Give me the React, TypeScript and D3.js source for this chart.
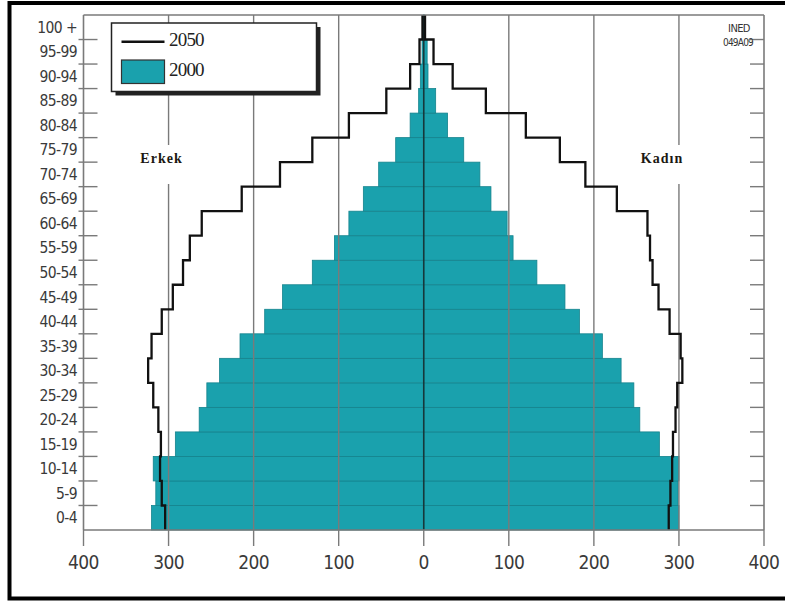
import React from "react";
import * as d3 from "d3";

// Age groups, bottom to top
const ageGroups = ["0-4","5-9","10-14","15-19","20-24","25-29","30-34","35-39","40-44","45-49","50-54","55-59","60-64","65-69","70-74","75-79","80-84","85-89","90-94","95-99","100 +"];
// 2000 (bars), thousands
const male2000 = [320,315,318,292,264,255,240,216,187,166,131,105,88,71,53,33,16,6,4,2,0.5];
const female2000 = [300,299,300,277,254,247,232,210,183,166,133,105,98,79,66,47,28,14,5,4,1];
// 2050 (step line)
const male2050 = [304,308,310,309,312,318,324,320,308,295,283,275,261,214,169,131,88,44,16,5,1.5];
const female2050 = [288,290,292,293,296,298,304,302,289,276,269,266,263,227,190,160,120,73,34,11.5,1.5];
const xTicks = [-400,-300,-200,-100,0,100,200,300,400];
const gridValues = [-300,-200,-100,100,200,300];
const legendItems = ["2050","2000"];
const sexLabels = ["Erkek","Kadın"];
const credit = ["INED","049A09"];

const W = 785, H = 604;
const L = 83.5, R = 764, T = 15, B = 530;
const TEAL = "#1aa1ad";
const GRID = "#7a7a7a";

export default function App() {
  const x = d3.scaleLinear().domain([-400, 400]).range([L, R]);
  const y = d3.scaleBand<string>().domain([...ageGroups].reverse()).range([T, B]).padding(0);
  const bw = y.bandwidth();

  const stepPts = (vals: number[], sign: number): [number, number][] => {
    const pts: [number, number][] = [];
    for (let i = ageGroups.length - 1; i >= 0; i--) {
      const yt = y(ageGroups[i])!;
      const xv = x(sign * vals[i]);
      pts.push([xv, yt], [xv, yt + bw]);
    }
    return pts;
  };
  const line = d3.line();

  const boundaries = ageGroups.slice(0, -1).map((g) => y(g)!);
  const gapTop = 145, gapBot = 184;

  return (
    <svg width={W} height={H} style={{ position: "absolute", left: 0, top: 0, background: "#fff" }}>
      <rect x={0} y={0} width={W} height={H} fill="#fff" />
      {/* outer frame */}
      <rect x={9.5} y={3} width={790} height={595.5} fill="none" stroke="#000" strokeWidth={4} />

      {/* bars 2000 */}
      {ageGroups.map((g, i) => (
        <g key={g}>
          <rect x={x(-male2000[i])} y={y(g)} width={x(0) - x(-male2000[i])} height={bw}
            fill={TEAL} stroke="#15838d" strokeWidth={0.8} />
          <rect x={x(0)} y={y(g)} width={x(female2000[i]) - x(0)} height={bw}
            fill={TEAL} stroke="#15838d" strokeWidth={0.8} />
        </g>
      ))}

      {/* grid lines */}
      {gridValues.map((v) =>
        Math.abs(v) === 300 ? (
          <g key={v}>
            <line x1={x(v)} x2={x(v)} y1={T} y2={gapTop} stroke={GRID} strokeWidth={1.4} />
            <line x1={x(v)} x2={x(v)} y1={gapBot} y2={B} stroke={GRID} strokeWidth={1.4} />
          </g>
        ) : (
          <line key={v} x1={x(v)} x2={x(v)} y1={T} y2={B} stroke={GRID} strokeWidth={1.4} />
        )
      )}

      {/* center line */}
      <line x1={x(0)} x2={x(0)} y1={T} y2={B} stroke="#16383b" strokeWidth={1.6} />

      {/* 2050 step lines */}
      <path d={line(stepPts(male2050, -1))!} fill="none" stroke="#111" strokeWidth={2.3} />
      <path d={line(stepPts(female2050, 1))!} fill="none" stroke="#111" strokeWidth={2.3} />

      {/* plot frame */}
      <line x1={L} x2={R} y1={T} y2={T} stroke={GRID} strokeWidth={1.4} />
      <line x1={R} x2={R} y1={T} y2={B} stroke={GRID} strokeWidth={1.6} />
      <line x1={L} x2={L} y1={T} y2={B} stroke={GRID} strokeWidth={1.6} />
      <line x1={L} x2={R} y1={B} y2={B} stroke={GRID} strokeWidth={1.6} />

      {/* y ticks */}
      {boundaries.map((by, i) => (
        <g key={i}>
          <line x1={L - 5} x2={L + 14} y1={by} y2={by} stroke={GRID} strokeWidth={1.4} />
          <line x1={R - 14} x2={R} y1={by} y2={by} stroke={GRID} strokeWidth={1.4} />
        </g>
      ))}
      {ageGroups.map((g) => (
        <text key={g} x={77} y={y(g)! + bw / 2 + 1} textAnchor="end" dominantBaseline="middle"
          fontFamily="'DejaVu Sans Condensed', 'DejaVu Sans', sans-serif" fontSize={15.5}
          fill="#3a3a3a" letterSpacing={-0.6}>{g}</text>
      ))}

      {/* x ticks */}
      {xTicks.map((v) => (
        <g key={v}>
          <line x1={x(v)} x2={x(v)} y1={B} y2={B + 16} stroke={GRID} strokeWidth={1.4} />
          <text x={x(v)} y={563} textAnchor="middle" dominantBaseline="middle"
            fontFamily="'DejaVu Sans Condensed', 'DejaVu Sans', sans-serif" fontSize={19}
            fill="#3a3a3a" letterSpacing={-0.6}>{Math.abs(v)}</text>
        </g>
      ))}

      {/* sex labels */}
      <text x={161.5} y={163} textAnchor="middle" fontFamily="'Liberation Serif', serif" fontWeight="bold"
        fontSize={14} letterSpacing={1} fill="#1c1812">{sexLabels[0]}</text>
      <text x={662} y={163} textAnchor="middle" fontFamily="'Liberation Serif', serif" fontWeight="bold"
        fontSize={14} letterSpacing={1} fill="#1c1812">{sexLabels[1]}</text>

      {/* credit */}
      <text x={739} y={32} textAnchor="middle" fontFamily="'DejaVu Sans Condensed', sans-serif" fontSize={11}
        letterSpacing={-0.6} fill="#333">{credit[0]}</text>
      <text x={738} y={46} textAnchor="middle" fontFamily="'DejaVu Sans Condensed', sans-serif" fontSize={10}
        letterSpacing={-0.8} fill="#333">{credit[1]}</text>

      {/* legend */}
      <rect x={115.5} y={27} width={205} height={68.5} fill="#222" />
      <rect x={111.5} y={23} width={205} height={68.5} fill="#fff" stroke="#222" strokeWidth={1.5} />
      <line x1={121.5} x2={164.5} y1={41.7} y2={41.7} stroke="#111" strokeWidth={2.5} />
      <text x={169} y={42} dominantBaseline="middle" fontFamily="'Liberation Serif', serif" fontSize={19}
        letterSpacing={-0.8} fill="#222">{legendItems[0]}</text>
      <rect x={121.5} y={60} width={43} height={23.5} fill={TEAL} stroke="#333" strokeWidth={1.2} />
      <text x={169} y={72} dominantBaseline="middle" fontFamily="'Liberation Serif', serif" fontSize={19}
        letterSpacing={-0.8} fill="#222">{legendItems[1]}</text>
    </svg>
  );
}
